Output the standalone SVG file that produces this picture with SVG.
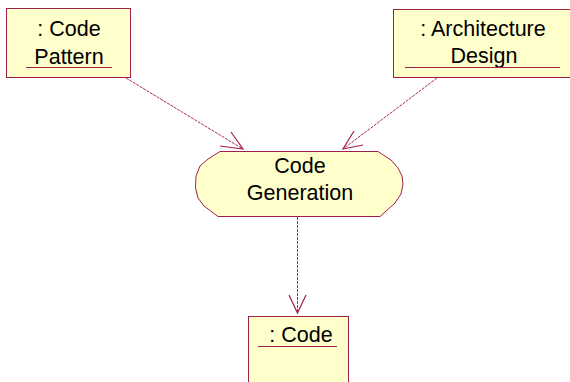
<svg xmlns="http://www.w3.org/2000/svg" width="570" height="382" viewBox="0 0 570 382">
  <style>
    .box { fill: #FFFFCC; stroke: #A0204A; stroke-width: 1; }
    .ul { stroke: #A0204A; stroke-width: 1; fill: none; }
    .lbl { font-family: "Liberation Sans", Arial, sans-serif; font-size: 21.5px; fill: #000; text-anchor: middle; }
    .edge { stroke: #B02858; stroke-width: 1; fill: none; stroke-dasharray: 3 1; }
    .head { stroke: #A0204A; stroke-width: 1.2; fill: none; }
  </style>
  <rect width="570" height="382" fill="#FFFFFF"/>

  <g id="code-pattern">
    <rect class="box" x="6.5" y="8.5" width="124" height="69"/>
    <text class="lbl" x="69" y="36">: Code</text>
    <text class="lbl" x="69" y="64">Pattern</text>
    <line class="ul" x1="26" y1="67.5" x2="112" y2="67.5"/>
  </g>

  <g id="architecture-design">
    <rect class="box" x="393.5" y="9.5" width="182" height="68"/>
    <text class="lbl" x="483" y="36">: Architecture</text>
    <text class="lbl" x="484" y="63">Design</text>
    <line class="ul" x1="405" y1="67.5" x2="560" y2="67.5"/>
  </g>

  <g id="code-generation">
    <path class="box" d="M220,151.5 L378,151.5 L391,160 L398,168 L402,176 L403,184 L401,194 L395,203 L380,216.5 L218,216.5 L204,206 L198,198 L195.5,188 L196,176 L200,166 L208,159 Z"/>
    <text class="lbl" x="300" y="173">Code</text>
    <text class="lbl" x="300" y="200">Generation</text>
  </g>

  <g id="code">
    <rect class="box" x="248.5" y="316.5" width="100" height="80"/>
    <text class="lbl" x="301" y="342">: Code</text>
    <line class="ul" x1="258" y1="346.5" x2="337" y2="346.5"/>
  </g>

  <g id="connectors">
    <line class="edge" x1="126" y1="78" x2="243" y2="149"/>
    <polyline class="head" points="231,132 243,149 220,146"/>
    <line class="edge" x1="437" y1="78" x2="343" y2="149"/>
    <polyline class="head" points="354,131 343,149 363,145"/>
    <line class="edge" x1="297.5" y1="217" x2="297.5" y2="313"/>
    <polyline class="head" points="289,295 297.5,313 306,295"/>
  </g>
</svg>
